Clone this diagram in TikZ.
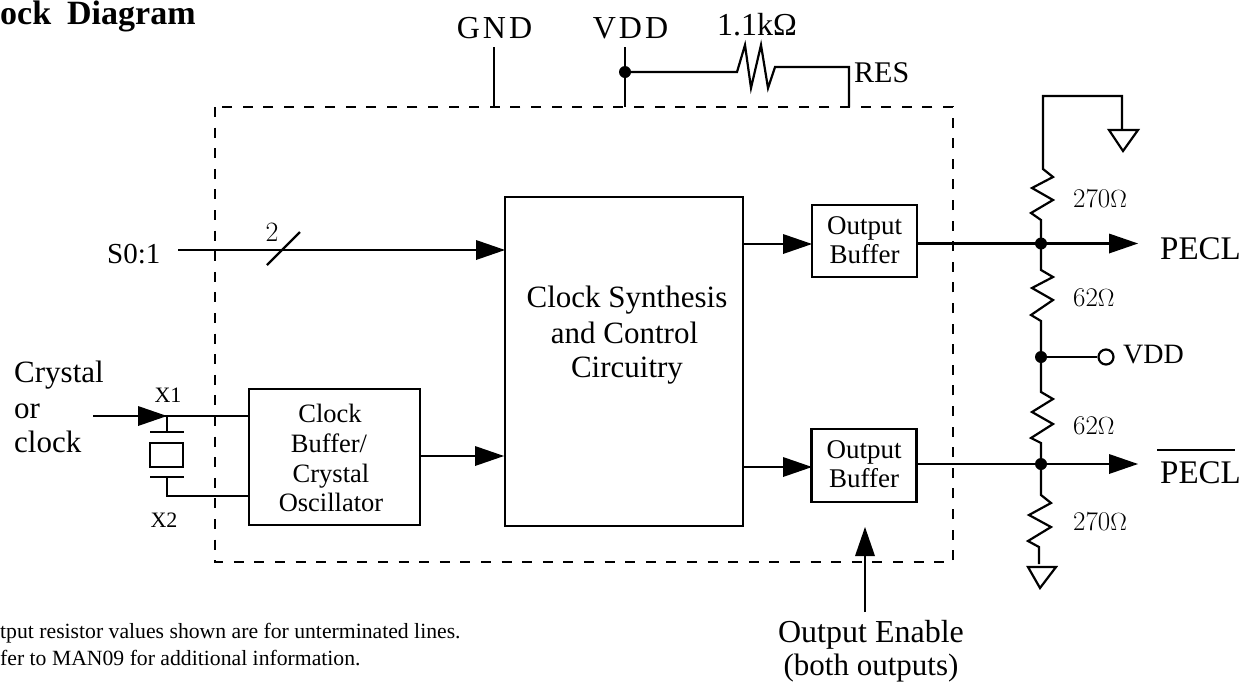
\documentclass[tikz,border=0pt]{standalone}
\usepackage{fontspec}
\setmainfont{Liberation Serif}
\newfontfamily\lmfont{Latin Modern Roman}
\newcommand{\fsz}[1]{\fontsize{#1}{#1}\selectfont}
\tikzset{
  wire/.style={line width=2.2pt,line cap=butt,line join=miter},
  box/.style={draw,line width=2.2pt,fill=white,inner sep=0pt},
  lab/.style={inner sep=0pt,anchor=base},
  labw/.style={inner sep=0pt,anchor=base west},
  ohm/.style={inner sep=0pt,anchor=base west,font=\lmfont\fsz{27}},
  dot/.style={circle,fill=black,minimum size=12pt,inner sep=0pt},
  gnd/.style={draw,line width=2.2pt,fill=white}
}
\newcommand{\headR}[2]{\fill (#1,#2) -- ++(-29,-10) -- ++(0,20) -- cycle;}
\begin{document}
\begin{tikzpicture}[x=1pt,y=-1pt]
\useasboundingbox (0,0) rectangle (1245,681);
\clip (0,0) rectangle (1245,681);
% dashed enclosure
\draw[line width=1.8pt,dash pattern=on 10pt off 10.6pt] (215,107) rectangle (953,562);
% boxes
\node[box,minimum width=238pt,minimum height=329pt] (core) at (624,361.5) {};
\node[lab,font=\fsz{31}] at (627,307) {Clock\ Synthesis};
\node[lab,font=\fsz{31}] at (624.5,343) {and Control};
\node[lab,font=\fsz{31}] at (627,377) {Circuitry};
\node[box,minimum width=105pt,minimum height=72pt] (ob1) at (864.5,241) {};
\node[lab,font=\fsz{27}] at (864.5,234) {Output};
\node[lab,font=\fsz{27}] at (864.5,263) {Buffer};
\node[box,minimum width=105pt,minimum height=73pt] (ob2) at (864,465.5) {};
\node[lab,font=\fsz{27}] at (864,458) {Output};
\node[lab,font=\fsz{27}] at (864,487) {Buffer};
\node[box,minimum width=171pt,minimum height=136pt] (osc) at (334.5,457) {};
\node[lab,font=\fsz{26.5}] at (330,422) {Clock};
\node[lab,font=\fsz{26.5}] at (329,452) {Buffer/};
\node[lab,font=\fsz{26.5}] at (331,482) {Crystal};
\node[lab,font=\fsz{26.5}] at (331,511) {Oscillator};
% top pins
\coordinate (gndT) at (494,47); \coordinate (gndB) at (494,107);
\coordinate (vddT) at (625,47); \coordinate (vddB) at (625,107);
\coordinate (resB) at (849,107);
\draw[wire] (gndT) -- (gndB);
\draw[wire] (vddT) -- (vddB);
\node[dot] (vddn) at (625,72) {};
\draw[wire] (vddn.center) -- (737,72) -- (745,45) -- (751,88) -- (761,45) -- (768,88) -- (775,67) -- (849,67) -- (resB);
\node[lab,font=\fsz{32}] at (494.5,38) {G\kern3ptN\kern3ptD};
\node[lab,font=\fsz{32}] at (630.5,38) {V\kern3ptD\kern3ptD};
\node[lab,font=\fsz{32}] at (757,35) {1.1kΩ};
\node[labw,font=\fsz{30}] at (854,82) {RES};
% S0:1
\node[labw,font=\fsz{29}] at (107,263) {S0:1};
\coordinate (s0a) at (178,250); \coordinate (s0b) at (476,250);
\draw[wire] (s0a) -- (s0b);
\headR{505}{250}
\draw[wire] (267,265) -- (300,232);
\node[lab,font=\lmfont\fsz{28}] at (272,241) {2};
% core to buffers
\draw[wire] (743,244) -- (784,244);
\headR{812}{244}
\draw[wire] (743,467) -- (784,467);
\headR{812}{467}
% osc to core
\draw[wire] (420,456) -- (476,456);
\headR{504}{456}
% crystal
\node[labw,font=\fsz{31}] at (14,382) {Crystal};
\node[labw,font=\fsz{31}] at (14,418) {or};
\node[labw,font=\fsz{31}] at (14,452) {clock};
\coordinate (xin) at (93,416);
\draw[wire] (xin) -- (140,416);
\draw[wire] (160,416) -- (248,416);
\headR{167}{416}
\draw[wire] (167,416) -- (167,432);
\draw[wire] (150,432) -- (184,432);
\draw[wire] (150,443) rectangle (183,467);
\draw[wire] (150,477) -- (184,477);
\draw[wire] (167,477) -- (167,496) -- (248,496);
\node[lab,font=\fsz{22}] at (168,402) {X1};
\node[lab,font=\fsz{22}] at (164,527) {X2};
% outputs
\node[dot] (n1) at (1041,243.5) {};
\node[dot] (n2) at (1041,357) {};
\node[dot] (n3) at (1041,464) {};
\draw[wire] (917,243.5) -- (n1.center) -- (1110,243.5);
\headR{1138}{243.5}
\draw[wire] (916,464) -- (n3.center) -- (1110,464);
\headR{1138}{464}
\node[labw,font=\fsz{33}] at (1160,259) {PECL};
\node[labw,font=\fsz{33}] at (1160,483) {PECL};
\draw[line width=1.6pt] (1157,450) -- (1235,450);
% resistors and grounds
\draw[wire] (1122,130) -- (1122,96) -- (1043,96) -- (1043,169) -- (1053,177) -- (1032,188) -- (1053,200) -- (1031,213) -- (1041,220) -- (n1.center);
\draw[gnd] (1109,130) -- (1138,130) -- (1123,151) -- cycle;
\draw[wire] (n1.center) -- (1041,270) -- (1053,277) -- (1032,288) -- (1053,300) -- (1031,315) -- (1041,321) -- (n2.center);
\draw[wire] (n2.center) -- (1041,392) -- (1053,399) -- (1032,412) -- (1053,424) -- (1031,438) -- (1041,443) -- (n3.center);
\draw[wire] (n3.center) -- (1041,495) -- (1051,503) -- (1029,515) -- (1051,527) -- (1028,541) -- (1039,547) -- (1039,564);
\draw[gnd] (1028,567) -- (1056,567) -- (1040,588) -- cycle;
\node[circle,draw,line width=2.2pt,fill=white,minimum size=15pt,inner sep=0pt] (vc) at (1106,357) {};
\draw[wire] (n2.center) -- (vc);
\node[labw,font=\fsz{28}] at (1123,363) {VDD};
\node[ohm] at (1073,207) {270$\Omega$};
\node[ohm] at (1073,306) {62$\Omega$};
\node[ohm] at (1073,434) {62$\Omega$};
\node[ohm] at (1073,530) {270$\Omega$};
% output enable
\coordinate (oea) at (865,612);
\draw[wire] (oea) -- (865,552);
\fill (865,527) -- (855,556) -- (875,556) -- cycle;
\node[lab,font=\fsz{32}] at (871,642) {Output Enable};
\node[lab,font=\fsz{31}] at (871,675) {(both outputs)};
% title and note
\node[labw,font=\fsz{34}\bfseries] at (0,24) {ock\hspace{16pt}Diagram};
\node[labw,font=\fsz{21.7}] at (0,638) {tput resistor values shown are for unterminated lines.};
\node[labw,font=\fsz{21.7}] at (0,665) {fer to MAN09 for additional information.};
\end{tikzpicture}
\end{document}
